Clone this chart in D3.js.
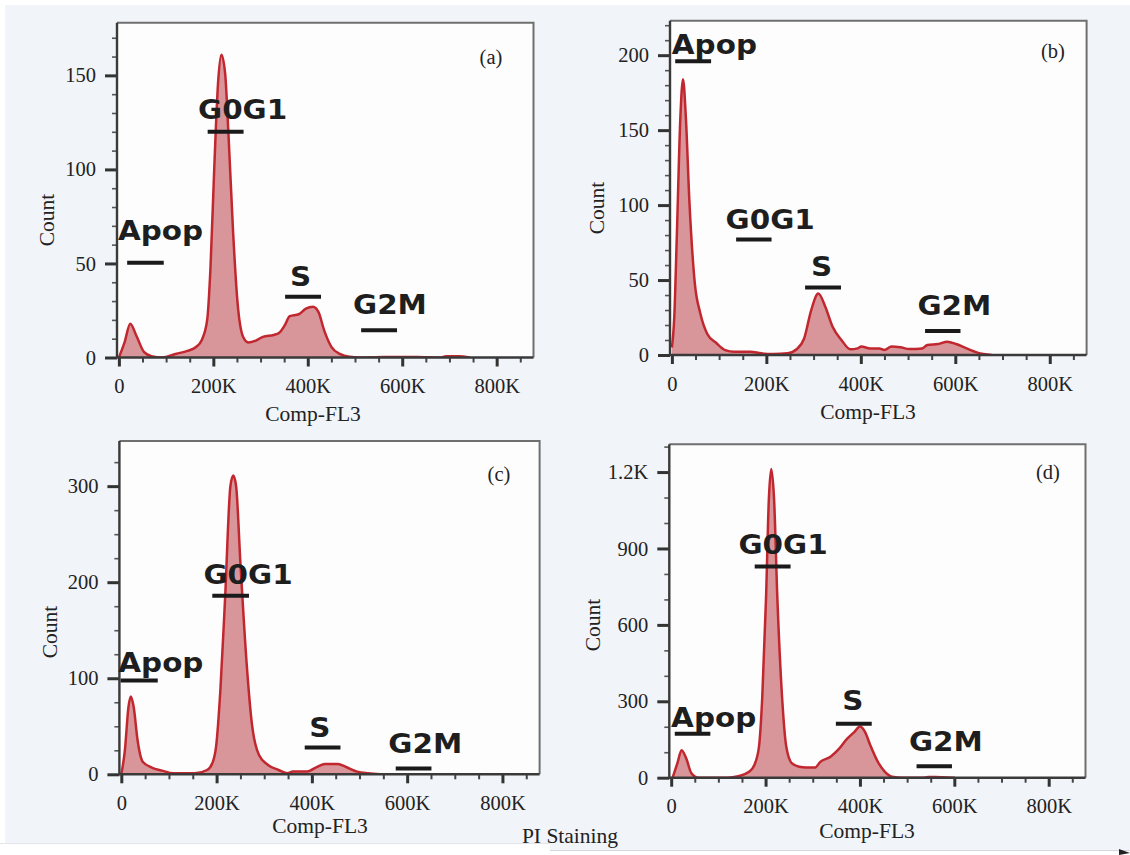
<!DOCTYPE html>
<html><head><meta charset="utf-8">
<script src="https://cdn.jsdelivr.net/npm/d3@7"></script>
<style>html,body{margin:0;padding:0;background:#fff;} svg{display:block}</style>
</head><body><svg id="chart" width="1130" height="855"></svg>
<script>
// ---------- DATA ----------
const phaseNames = ["Apop", "G0G1", "S", "G2M"];
const panelTags = ["(a)", "(b)", "(c)", "(d)"];
const xTickValues = [0, 200, 400, 600, 800];          // Comp-FL3, thousands
const xTickLabels = ["0", "200K", "400K", "600K", "800K"];
const xMinorStep = 50;

// Panel (a)
const aFl3   = [0, 12, 24, 38, 53, 69, 91, 122, 145, 164, 175, 187, 194, 202, 210, 217, 225, 232, 242, 251, 263, 274, 290, 305, 328, 339, 351, 362, 381, 396, 411, 423, 434, 450, 469, 488, 510, 560, 632, 680, 693, 720, 743];
const aCount = [0, 8, 18, 11, 3, 0.7, 0, 2, 3.5, 5.7, 9, 20, 48, 101, 146, 161, 151, 119, 66, 30, 11, 8, 9, 11, 12, 13, 17, 22, 23, 26, 27, 24, 15, 5.7, 1.8, 0.4, 0, 0.3, 0.3, 0, 0.6, 0.6, 0];
const aYTicks = [0, 50, 100, 150];
const aYLabels = ["0", "50", "100", "150"];
const aYMinorStep = 10;
const aGateStart = [17.5, 188, 352, 513];
const aGateEnd   = [95, 264, 428, 589];
const aGateCount = [50.4, 120, 32.3, 14.5];
const aLabelFl3   = [88, 262, 385, 574];
const aLabelCount = [62.4, 126.6, 38, 23];

// Panel (b)
const bFl3   = [0, 5, 10.6, 18, 23.5, 29.5, 37, 48.5, 60, 75, 94, 113, 132, 166, 189, 215, 245, 264, 280, 295, 310, 325, 340, 359, 378, 393, 401, 420, 439, 450, 465, 484, 503, 530, 541, 564, 583, 602, 624, 647, 677];
const bCount = [5, 25, 81, 159, 184, 159, 103, 48, 28, 14, 8, 3.3, 2.2, 2.2, 1.1, 0.7, 1.1, 3.8, 11, 30, 41, 32, 19, 10, 3.8, 4.4, 5.6, 4.4, 4.4, 3.3, 5.6, 5.1, 4, 4.4, 6.7, 7.3, 8.9, 7.3, 4.4, 1.6, 0];
const bYTicks = [0, 50, 100, 150, 200];
const bYLabels = ["0", "50", "100", "150", "200"];
const bYMinorStep = 10;
const bGateStart = [7, 136, 282, 536];
const bGateEnd   = [83, 211, 358, 611];
const bGateCount = [196, 77, 45, 16];
const bLabelFl3   = [90, 208, 317, 598];
const bLabelCount = [201, 84, 52.7, 26.7];

// Panel (c)
const cFl3   = [0, 7.5, 15, 20, 26, 34, 45, 64, 86, 109, 154, 180, 191, 199, 208, 218, 229, 235, 241, 250, 263, 274, 289, 308, 330, 349, 360, 390, 409, 428, 454, 473, 495, 518, 544];
const cCount = [0, 25, 70, 81, 70, 36, 13, 7, 3.8, 1, 1, 4.5, 11.5, 29, 88, 185, 300, 311, 300, 220, 116, 53, 20, 9.7, 4.5, 1, 2.8, 2.8, 7.3, 10.8, 10.8, 7.3, 2.8, 1, 0];
const cYTicks = [0, 100, 200, 300];
const cYLabels = ["0", "100", "200", "300"];
const cYMinorStep = 25;
const cGateStart = [-1.5, 191, 385, 576];
const cGateEnd   = [76.5, 268, 460, 651];
const cGateCount = [97.6, 186, 28, 6];
const cLabelFl3   = [83, 266, 417, 638];
const cLabelCount = [106, 198, 39, 22];

// Panel (d)
const dFl3   = [3, 13, 22, 32, 43, 58, 119, 142, 165, 176, 186, 193, 201, 207, 212, 218, 225, 235, 244, 256, 271, 286, 305, 316, 339, 354, 373, 388, 400, 411, 422, 438, 453, 468, 491, 532, 545, 559, 575, 601];
const dCount = [0, 56, 108, 75, 17, 0, 0, 6, 23, 49, 121, 316, 705, 1095, 1212, 1095, 705, 316, 121, 56, 43, 40, 40, 62, 84, 110, 153, 179, 201, 179, 127, 62, 23, 4, 0, 0, 2.6, 2.6, 2, 0];
const dYTicks = [0, 300, 600, 900, 1200];
const dYLabels = ["0", "300", "600", "900", "1.2K"];
const dYMinorStep = 100;
const dGateStart = [7.6, 177, 349, 520];
const dGateEnd   = [83, 253, 425, 595];
const dGateCount = [173, 829, 212, 45];
const dLabelFl3   = [90, 237, 385, 582];
const dLabelCount = [201, 877, 264, 105];

// ---------- LAYOUT ----------
const xDomain = [-4, 878];
const panels = [
  {tag: panelTags[0], fl3: aFl3, count: aCount, yTicks: aYTicks, yLabels: aYLabels, yMinor: aYMinorStep,
   gs: aGateStart, ge: aGateEnd, gc: aGateCount, lx: aLabelFl3, ly: aLabelCount,
   box: {l: 117, t: 22.7, r: 533.5, b: 357.5}, yMax: 178,
   countPos: [46, 220], titlePos: [313, 421], tagPos: [491, 64]},
  {tag: panelTags[1], fl3: bFl3, count: bCount, yTicks: bYTicks, yLabels: bYLabels, yMinor: bYMinorStep,
   gs: bGateStart, ge: bGateEnd, gc: bGateCount, lx: bLabelFl3, ly: bLabelCount,
   box: {l: 670, t: 20.7, r: 1086.6, b: 355}, yMax: 223,
   countPos: [596, 208], titlePos: [868, 419], tagPos: [1053, 58]},
  {tag: panelTags[2], fl3: cFl3, count: cCount, yTicks: cYTicks, yLabels: cYLabels, yMinor: cYMinorStep,
   gs: cGateStart, ge: cGateEnd, gc: cGateCount, lx: cLabelFl3, ly: cLabelCount,
   box: {l: 119.4, t: 441, r: 539.6, b: 774.3}, yMax: 347,
   countPos: [49, 632], titlePos: [320, 833], tagPos: [499, 481]},
  {tag: panelTags[3], fl3: dFl3, count: dCount, yTicks: dYTicks, yLabels: dYLabels, yMinor: dYMinorStep,
   gs: dGateStart, ge: dGateEnd, gc: dGateCount, lx: dLabelFl3, ly: dLabelCount,
   box: {l: 669.3, t: 444.3, r: 1085.5, b: 777.7}, yMax: 1309,
   countPos: [592, 625], titlePos: [867, 838], tagPos: [1048, 479]}
];

const serif = "'Liberation Serif','Times New Roman',serif";
const sans = "'DejaVu Sans',Verdana,sans-serif";
const svg = d3.select("#chart");

// background
svg.append("rect").attr("x", 5).attr("y", 5).attr("width", 1125).attr("height", 838).attr("fill", "#f1f4f9");
svg.append("rect").attr("x", 550).attr("y", 843).attr("width", 580).attr("height", 7).attr("fill", "#f1f4f9");
svg.append("line").attr("x1", 550).attr("x2", 1130).attr("y1", 850.5).attr("y2", 850.5).attr("stroke", "#d4d7dc").attr("stroke-width", 1);
svg.append("line").attr("x1", 0).attr("x2", 550).attr("y1", 843.5).attr("y2", 843.5).attr("stroke", "#e2e5ea").attr("stroke-width", 1);
svg.append("path").attr("d", "M1119,849 L1130,853 L1119,855 Z").attr("fill", "#222");

panels.forEach((p, pi) => {
  const g = svg.append("g");
  const x = d3.scaleLinear().domain(xDomain).range([p.box.l, p.box.r]);
  const y = d3.scaleLinear().domain([0, p.yMax]).range([p.box.b, p.box.t]);

  g.append("rect").attr("x", p.box.l).attr("y", p.box.t)
    .attr("width", p.box.r - p.box.l).attr("height", p.box.b - p.box.t).attr("fill", "#fdfdfe");

  const clipId = "clip" + pi;
  g.append("clipPath").attr("id", clipId).append("rect")
    .attr("x", p.box.l).attr("y", p.box.t).attr("width", p.box.r - p.box.l).attr("height", p.box.b - p.box.t);

  const pts = p.fl3.map((v, i) => [v, p.count[i]]);
  const area = d3.area().x(d => x(d[0])).y0(y(0)).y1(d => y(d[1])).curve(d3.curveMonotoneX);
  const line = d3.line().x(d => x(d[0])).y(d => y(d[1])).curve(d3.curveMonotoneX);
  const cg = g.append("g").attr("clip-path", `url(#${clipId})`);
  cg.append("path").attr("d", area(pts)).attr("fill", "#d8969a");
  cg.append("path").attr("d", line(pts)).attr("fill", "none").attr("stroke", "#c1272e").attr("stroke-width", 2.5).attr("stroke-linejoin", "round");

  // box top/right
  g.append("path").attr("d", `M${p.box.l},${p.box.t} H${p.box.r} V${p.box.b}`)
    .attr("fill", "none").attr("stroke", "#6f6f6f").attr("stroke-width", 2);

  // x axis
  const xMinor = d3.range(xMinorStep, 851, xMinorStep).filter(v => !xTickValues.includes(v));
  const xa = g.append("g").attr("transform", `translate(0,${p.box.b})`)
    .call(d3.axisBottom(x).tickValues(xTickValues).tickFormat((d, i) => xTickLabels[i]).tickSize(9).tickPadding(12));
  xa.select(".domain").remove();
  xa.selectAll(".tick line").attr("stroke", "#333").attr("stroke-width", 3);
  xa.selectAll(".tick text").attr("font-family", serif).attr("font-size", 20.5).attr("fill", "#222");
  const xm = g.append("g").attr("transform", `translate(0,${p.box.b})`)
    .call(d3.axisBottom(x).tickValues(xMinor).tickFormat("").tickSize(5));
  xm.select(".domain").remove();
  xm.selectAll(".tick line").attr("stroke", "#444").attr("stroke-width", 2);

  // y axis
  const yMinor = d3.range(0, p.yMax, p.yMinor).filter(v => !p.yTicks.includes(v));
  const ya = g.append("g").attr("transform", `translate(${p.box.l},0)`)
    .call(d3.axisLeft(y).tickValues(p.yTicks).tickFormat((d, i) => p.yLabels[i]).tickSize(12).tickPadding(9));
  ya.select(".domain").remove();
  ya.selectAll(".tick line").attr("stroke", "#333").attr("stroke-width", 3);
  ya.selectAll(".tick text").attr("font-family", serif).attr("font-size", 20.5).attr("fill", "#222");
  const ym = g.append("g").attr("transform", `translate(${p.box.l},0)`)
    .call(d3.axisLeft(y).tickValues(yMinor).tickFormat("").tickSize(5));
  ym.select(".domain").remove();
  ym.selectAll(".tick line").attr("stroke", "#555").attr("stroke-width", 1.6);

  // axis lines
  g.append("path").attr("d", `M${p.box.l},${p.box.t} V${p.box.b} H${p.box.r}`)
    .attr("fill", "none").attr("stroke", "#3a3a3a").attr("stroke-width", 2.4);

  // gates
  p.gs.forEach((s, i) => {
    g.append("line").attr("x1", x(s)).attr("x2", x(p.ge[i]))
      .attr("y1", y(p.gc[i])).attr("y2", y(p.gc[i]))
      .attr("stroke", "#1a1a1a").attr("stroke-width", 4);
  });
  // phase labels
  phaseNames.forEach((name, i) => {
    g.append("g").attr("transform", `translate(${x(p.lx[i])},${y(p.ly[i])}) scale(1.09,1)`)
      .append("text").attr("text-anchor", "middle")
      .attr("font-family", sans).attr("font-weight", "bold").attr("font-size", 27)
      .attr("fill", "#1e1e1e").text(name);
  });

  // titles
  g.append("text").attr("transform", `translate(${p.countPos[0]},${p.countPos[1]}) rotate(-90)`)
    .attr("text-anchor", "middle").attr("dy", "0.35em")
    .attr("font-family", serif).attr("font-size", 21.5).attr("fill", "#222").text("Count");
  g.append("text").attr("x", p.titlePos[0]).attr("y", p.titlePos[1]).attr("text-anchor", "middle")
    .attr("font-family", serif).attr("font-size", 21.5).attr("fill", "#222").text("Comp-FL3");
  g.append("text").attr("x", p.tagPos[0]).attr("y", p.tagPos[1]).attr("text-anchor", "middle")
    .attr("font-family", serif).attr("font-size", 20.5).attr("fill", "#222").text(p.tag);
});

svg.append("text").attr("x", 570).attr("y", 843).attr("text-anchor", "middle")
  .attr("font-family", serif).attr("font-size", 21.5).attr("fill", "#222").text("PI Staining");
</script>
</body></html>
